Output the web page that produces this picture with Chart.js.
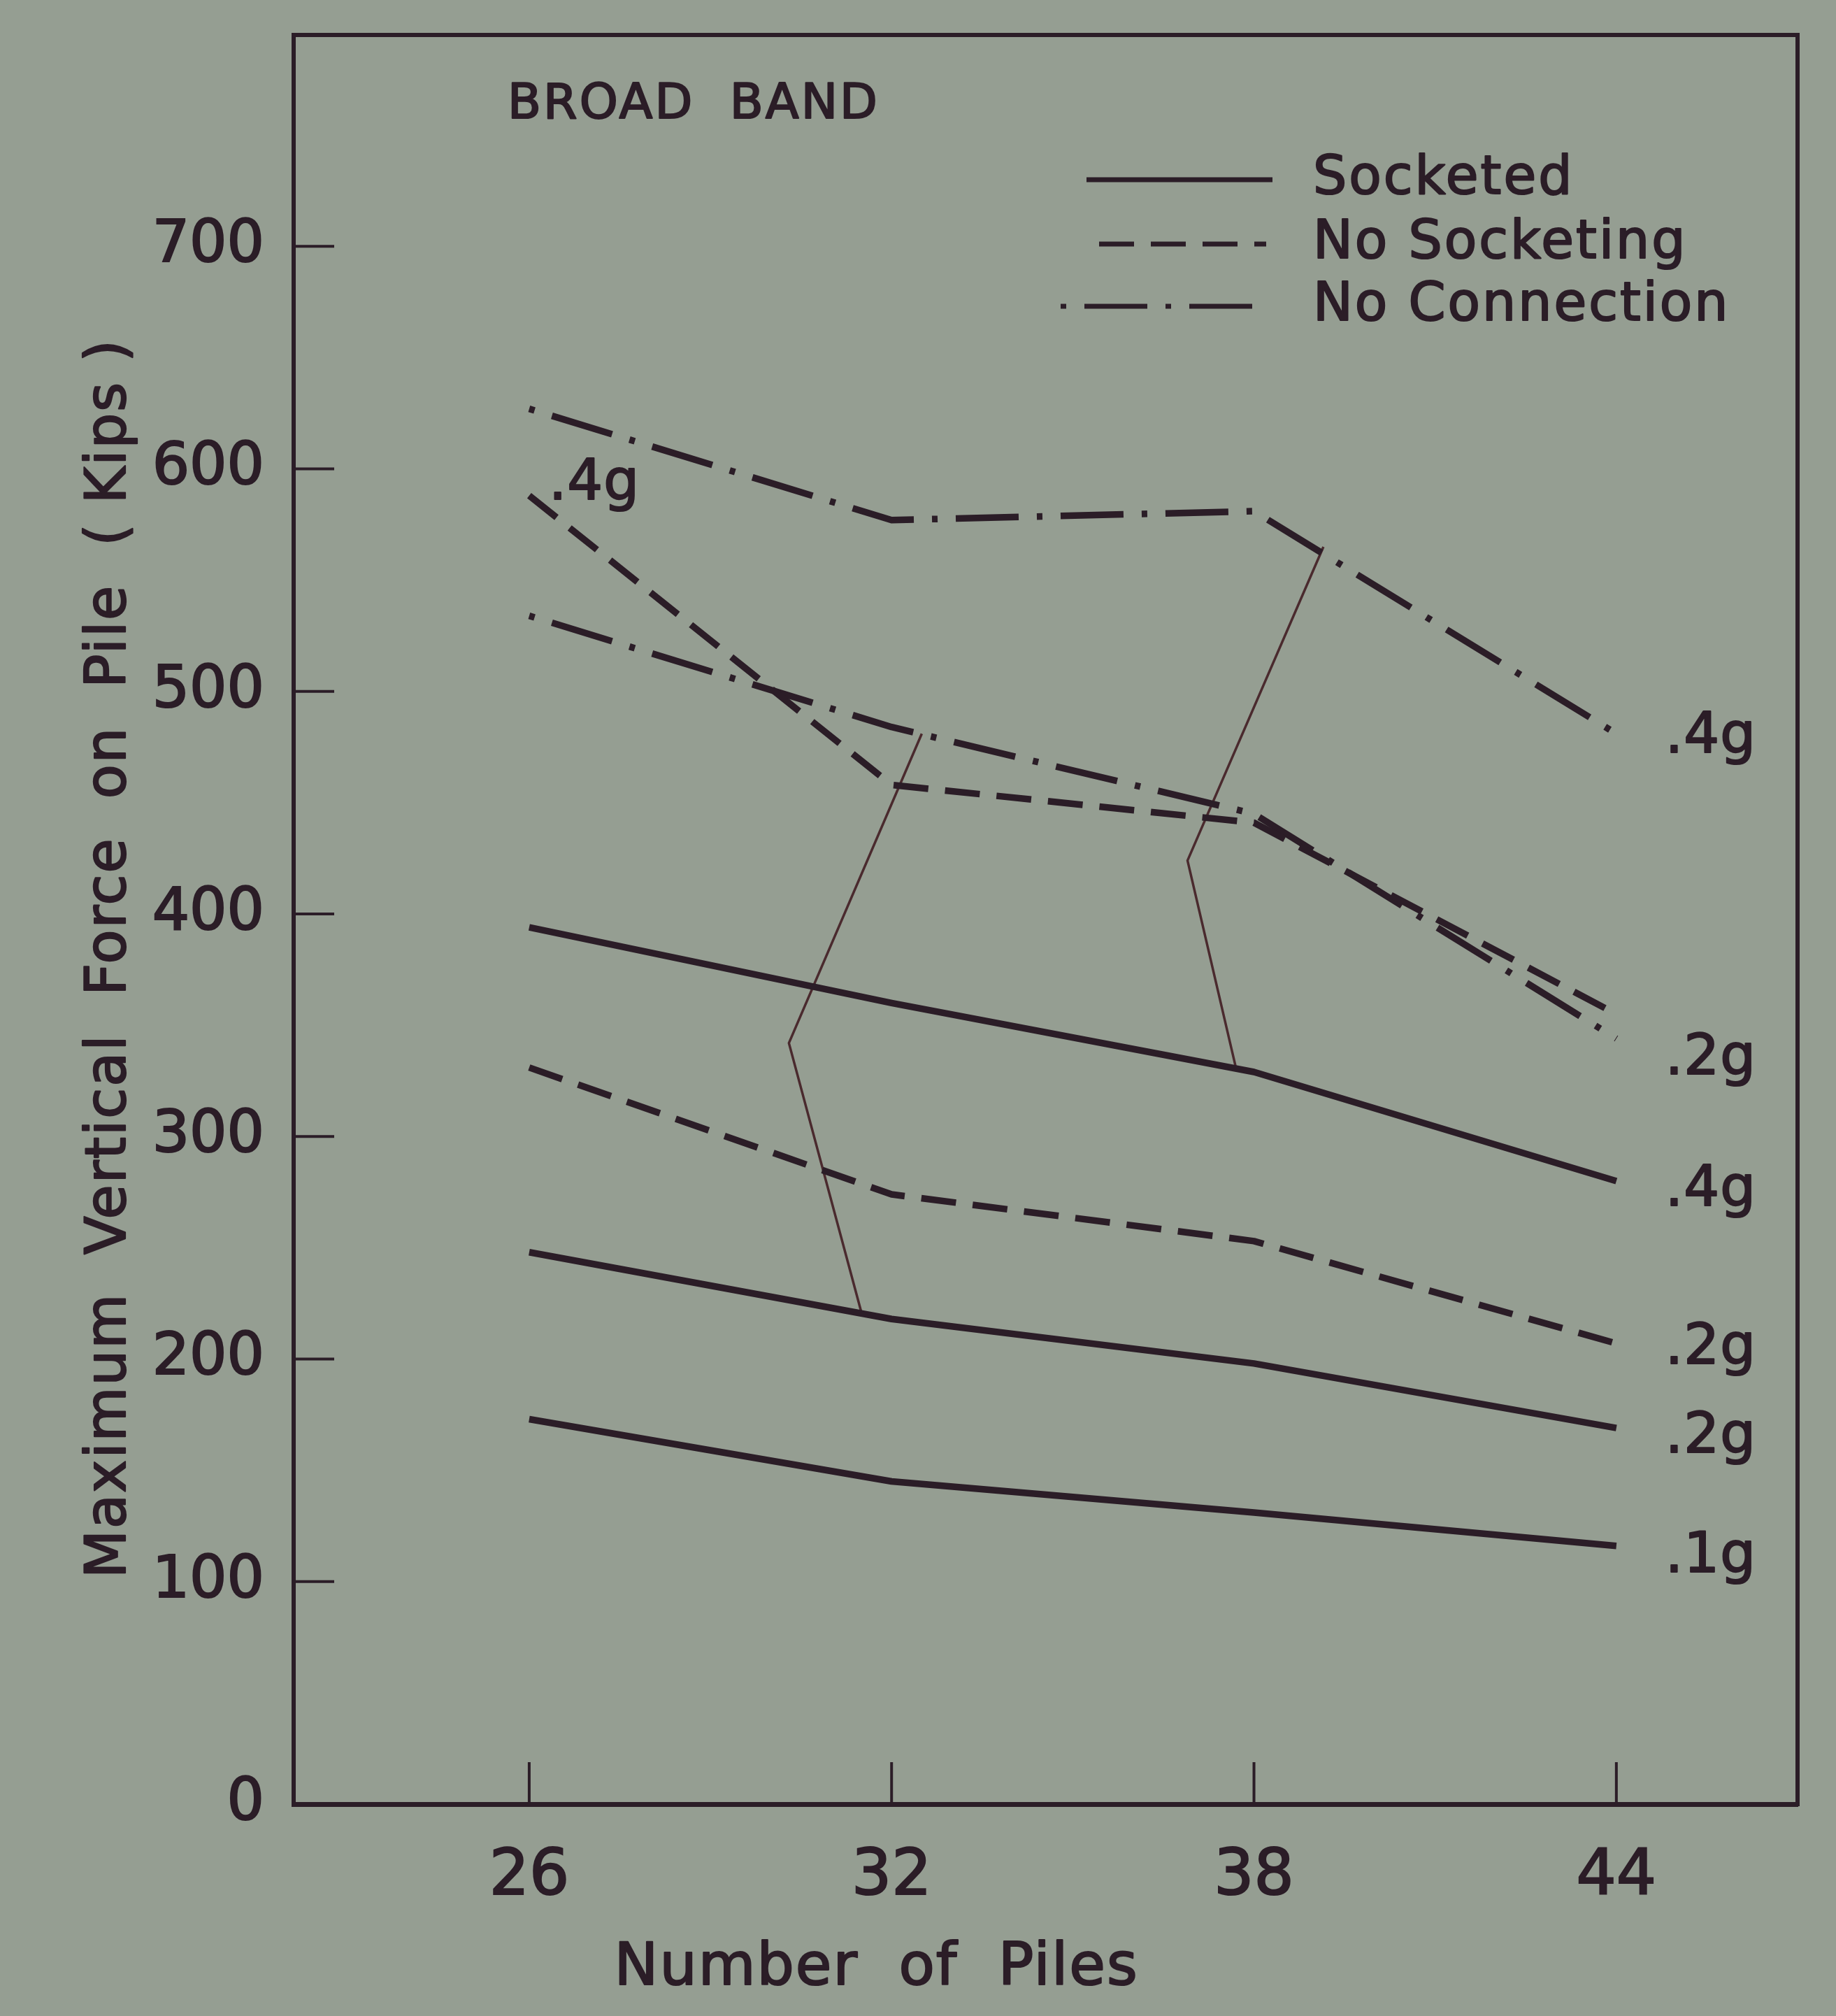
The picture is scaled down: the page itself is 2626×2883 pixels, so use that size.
<!DOCTYPE html>
<html>
<head>
<meta charset="utf-8">
<script src="https://cdn.jsdelivr.net/npm/chart.js@4.4.1/dist/chart.umd.min.js"></script>
<style>
  html, body { margin: 0; padding: 0; background: #959e92; }
  #chart { display: block; }
</style>
</head>
<body>
<canvas id="chart" width="2626" height="2883"></canvas>
<script>
// ---- data ----
const pileCounts = [26, 32, 38, 44];
const xTicks = [26, 32, 38, 44];
const yTicks = [0, 100, 200, 300, 400, 500, 600, 700];

// Socketed
const socketed01 = [173, 145, 131, 116];
const socketed02 = [248, 218, 198, 169];
const socketed04 = [394, 360, 329, 280];
// No Socketing
const noSocket02 = [331, 274, 253, 207];
const noSocket04 = [588, 458, 441, 355];
// No Connection
const noConn02 = [534, 484, 445, 344];
const noConn04 = [627, 577, 581, 481];

// thin boundary lines between the groups
const boundaryLeftX = [32.5, 30.3, 31.5];
const boundaryLeftY = [481, 342, 221];
const boundaryRightX = [39.15, 36.9, 37.7];
const boundaryRightY = [565, 424, 331];

const legendGroups = ['Socketed', 'No Socketing', 'No Connection'];

// ---- look ----
const paperColor = '#959e92';
const inkColor = '#2b1d27';
const thinInk = '#4a2a2e';
const fontFamily = '"DejaVu Sans", "Liberation Sans", sans-serif';

const groupStyle = {
  'Socketed': { borderDash: [], borderDashOffset: 0 },
  'No Socketing': { borderDash: [50, 24], borderDashOffset: 0 },
  'No Connection': { borderDash: [90, 26, 8, 26], borderDashOffset: 116 }
};

// which curves get an acceleration tag, and where
const series = [
  { group: 'Socketed', tag: '.1g', values: socketed01, side: 'end', dy: 16 },
  { group: 'Socketed', tag: '.2g', values: socketed02, side: 'end', dy: 14 },
  { group: 'Socketed', tag: '.4g', values: socketed04, side: 'end', dy: 14 },
  { group: 'No Socketing', tag: '.2g', values: noSocket02, side: 'end', dy: 8 },
  { group: 'No Socketing', tag: '.4g', values: noSocket04, side: 'start', dy: -16 },
  { group: 'No Connection', tag: '.2g', values: noConn02, side: 'end', dy: 30 },
  { group: 'No Connection', tag: '.4g', values: noConn04, side: 'end', dy: 6 }
];

function curveDataset(s) {
  return {
    label: s.group + ' ' + s.tag,
    group: s.group,
    tag: s.tag,
    tagSide: s.side,
    tagDy: s.dy,
    data: pileCounts.map((x, i) => ({ x: x, y: s.values[i] })),
    borderColor: inkColor,
    borderWidth: 9.5,
    borderCapStyle: 'butt',
    borderJoinStyle: 'round',
    pointRadius: 0,
    tension: 0,
    ...groupStyle[s.group]
  };
}

function boundaryDataset(xs, ys) {
  return {
    label: 'boundary',
    data: xs.map((x, i) => ({ x: x, y: ys[i] })),
    borderColor: thinInk,
    borderWidth: 3.5,
    pointRadius: 0,
    tension: 0
  };
}

const datasets = series.map(curveDataset).concat([
  boundaryDataset(boundaryLeftX, boundaryLeftY),
  boundaryDataset(boundaryRightX, boundaryRightY)
]);

// filled text with a thin outline, to get the heavier stencil look
function inkText(ctx, text, x, y) {
  ctx.fillText(text, x, y);
  ctx.strokeText(text, x, y);
}

// paper background, frame, inward ticks, titles, legend and tags
const platePlugin = {
  id: 'plate',
  beforeDraw(chart) {
    const ctx = chart.ctx;
    ctx.save();
    ctx.fillStyle = paperColor;
    ctx.fillRect(0, 0, chart.width, chart.height);
    ctx.restore();
  },
  afterDraw(chart) {
    const ctx = chart.ctx;
    const a = chart.chartArea;
    const x = chart.scales.x;
    const y = chart.scales.y;
    ctx.save();
    ctx.strokeStyle = inkColor;
    ctx.fillStyle = inkColor;
    ctx.lineCap = 'square';

    // top and right sides of the frame
    ctx.lineWidth = 6;
    ctx.beginPath();
    ctx.moveTo(a.left, a.top);
    ctx.lineTo(a.right, a.top);
    ctx.lineTo(a.right, a.bottom);
    ctx.stroke();

    // ticks pointing into the plot
    ctx.lineWidth = 4;
    ctx.lineCap = 'butt';
    yTicks.filter(v => v > 0).forEach(v => {
      const py = y.getPixelForValue(v);
      ctx.beginPath();
      ctx.moveTo(a.left, py);
      ctx.lineTo(a.left + 58, py);
      ctx.stroke();
    });
    xTicks.forEach(v => {
      const px = x.getPixelForValue(v);
      ctx.beginPath();
      ctx.moveTo(px, a.bottom);
      ctx.lineTo(px, a.bottom - 60);
      ctx.stroke();
    });

    ctx.lineWidth = 2.2;
    ctx.lineJoin = 'round';

    // panel title
    ctx.font = '70px ' + fontFamily;
    ctx.letterSpacing = '3px';
    ctx.textBaseline = 'middle';
    ctx.textAlign = 'left';
    inkText(ctx, 'BROAD  BAND', a.left + 306, a.top + 101);

    // axis titles
    ctx.font = '84px ' + fontFamily;
    ctx.letterSpacing = '2px';
    ctx.textAlign = 'center';
    inkText(ctx, 'Number  of  Piles', x.getPixelForValue(31.75), a.bottom + 236);
    ctx.save();
    ctx.font = '80px ' + fontFamily;
    ctx.translate(158, y.getPixelForValue(380));
    ctx.rotate(-Math.PI / 2);
    inkText(ctx, 'Maximum  Vertical  Force  on  Pile  ( Kips )', 0, 0);
    ctx.restore();

    // legend
    const rows = [
      { x0: 1554, x1: 1820, y: a.top + 207 },
      { x0: 1572, x1: 1811, y: a.top + 299 },
      { x0: 1517, x1: 1811, y: a.top + 388 }
    ];
    ctx.font = '76px ' + fontFamily;
    ctx.letterSpacing = '3px';
    ctx.textAlign = 'left';
    legendGroups.forEach((g, i) => {
      const st = groupStyle[g];
      const r = rows[i];
      ctx.save();
      ctx.lineWidth = 7;
      ctx.setLineDash(st.borderDash);
      ctx.lineDashOffset = st.borderDashOffset;
      ctx.beginPath();
      ctx.moveTo(r.x0, r.y);
      ctx.lineTo(r.x1, r.y);
      ctx.stroke();
      ctx.restore();
      inkText(ctx, g, 1878, r.y);
    });

    // acceleration tags at the curve ends
    ctx.font = '80px ' + fontFamily;
    ctx.letterSpacing = '1px';
    chart.data.datasets.forEach((ds, i) => {
      if (!ds.tag) return;
      const pts = chart.getDatasetMeta(i).data;
      if (ds.tagSide === 'end') {
        const p = pts[pts.length - 1];
        inkText(ctx, ds.tag, p.x + 70, p.y + ds.tagDy);
      } else {
        const p = pts[0];
        inkText(ctx, ds.tag, p.x + 28, p.y + ds.tagDy);
      }
    });
    ctx.restore();
  }
};

new Chart(document.getElementById('chart'), {
  type: 'line',
  data: { datasets: datasets },
  plugins: [platePlugin],
  options: {
    responsive: false,
    animation: false,
    devicePixelRatio: 1,
    layout: { padding: { top: 50, right: 55, left: 0, bottom: 0 } },
    plugins: {
      legend: { display: false },
      tooltip: { enabled: false },
      title: { display: false }
    },
    scales: {
      x: {
        type: 'linear',
        min: 22.1,
        max: 47,
        afterBuildTicks: scale => { scale.ticks = xTicks.map(v => ({ value: v })); },
        afterFit: scale => {
          scale.height = 303;
          scale.paddingLeft = 0;
          scale.paddingRight = 0;
        },
        grid: { display: false, drawTicks: false },
        border: { display: true, color: inkColor, width: 7 },
        ticks: {
          color: inkColor,
          padding: 52,
          textStrokeColor: inkColor,
          textStrokeWidth: 2.2,
          font: { family: fontFamily, size: 90 }
        }
      },
      y: {
        type: 'linear',
        min: 0,
        max: 795,
        afterBuildTicks: scale => { scale.ticks = yTicks.map(v => ({ value: v })); },
        afterFit: scale => {
          scale.width = 420;
          scale.paddingTop = 0;
          scale.paddingBottom = 0;
        },
        grid: { display: false, drawTicks: false },
        border: { display: true, color: inkColor, width: 6 },
        ticks: {
          color: inkColor,
          padding: 42,
          textStrokeColor: inkColor,
          textStrokeWidth: 2.2,
          font: { family: fontFamily, size: 84 }
        }
      }
    }
  }
});
</script>
</body>
</html>
